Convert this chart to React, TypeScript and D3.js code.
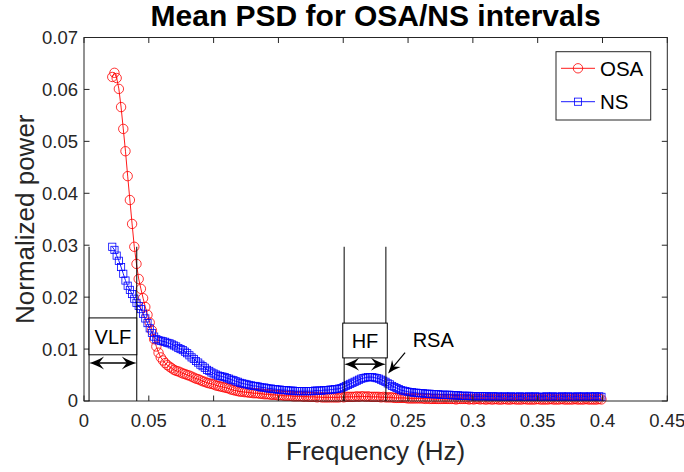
import React from 'react';
import * as d3 from 'd3';

// ---- Data ----
const FREQ_START = 0.0218;
const FREQ_STEP = 0.0017;

const OSA = [
  0.0624,0.0632,0.0622,0.0601,0.0566,0.0524,0.0481,0.0433,0.0387,0.0341,
  0.0297,0.0264,0.0235,0.0216,0.0198,0.0181,0.0166,0.0151,0.0136,0.0119,
  0.0105,0.0093,0.0084,0.0078,0.0073,0.0069,0.0066,0.0063,0.0060,0.0058,
  0.0057,0.0055,0.0053,0.0052,0.0050,0.0049,0.0047,0.0045,0.0043,0.0042,
  0.0040,0.0038,0.0037,0.0035,0.0034,0.0033,0.0032,0.0030,0.0029,0.0028,
  0.0027,0.0026,0.0025,0.0024,0.0022,0.0021,0.0020,0.0019,0.0018,0.0018,
  0.0017,0.0017,0.0016,0.0016,0.0015,0.0015,0.0015,0.0014,0.0014,0.0013,
  0.0013,0.0013,0.0012,0.0012,0.0012,0.0011,0.0011,0.0011,0.0010,0.0010,
  0.0010,0.0010,0.0009,0.0009,0.0009,0.0009,0.0009,0.0008,0.0009,0.0008,
  0.0008,0.0008,0.0008,0.0007,0.0008,0.0007,0.0007,0.0007,0.0007,0.0007,
  0.0007,0.0007,0.0007,0.0007,0.0008,0.0007,0.0008,0.0008,0.0008,0.0008,
  0.0008,0.0009,0.0008,0.0009,0.0009,0.0008,0.0009,0.0008,0.0008,0.0008,
  0.0008,0.0008,0.0007,0.0008,0.0007,0.0007,0.0007,0.0007,0.0006,0.0006,
  0.0006,0.0006,0.0006,0.0006,0.0005,0.0005,0.0005,0.0005,0.0005,0.0005,
  0.0005,0.0005,0.0004,0.0005,0.0004,0.0004,0.0004,0.0004,0.0004,0.0004,
  0.0004,0.0004,0.0004,0.0004,0.0004,0.0004,0.0003,0.0004,0.0004,0.0004,
  0.0004,0.0004,0.0003,0.0004,0.0003,0.0004,0.0004,0.0003,0.0004,0.0003,
  0.0003,0.0004,0.0003,0.0003,0.0004,0.0003,0.0003,0.0003,0.0004,0.0003,
  0.0003,0.0003,0.0004,0.0003,0.0003,0.0003,0.0003,0.0004,0.0003,0.0003,
  0.0003,0.0003,0.0003,0.0004,0.0003,0.0003,0.0003,0.0003,0.0003,0.0004,
  0.0003,0.0003,0.0003,0.0003,0.0004,0.0003,0.0003,0.0003,0.0003,0.0003,
  0.0004,0.0003,0.0003,0.0003,0.0003,0.0004,0.0003,0.0003,0.0003,0.0003,
  0.0003,0.0004,0.0003,
];

const NS = [
  0.0297,0.0291,0.0280,0.0270,0.0258,0.0245,0.0232,0.0222,0.0214,0.0206,
  0.0197,0.0189,0.0183,0.0177,0.0168,0.0159,0.0150,0.0140,0.0131,0.0124,
  0.0119,0.0117,0.0116,0.0115,0.0114,0.0112,0.0111,0.0109,0.0107,0.0105,
  0.0102,0.0100,0.0098,0.0095,0.0092,0.0088,0.0084,0.0081,0.0077,0.0074,
  0.0070,0.0067,0.0064,0.0060,0.0058,0.0055,0.0053,0.0051,0.0049,0.0048,
  0.0047,0.0046,0.0044,0.0043,0.0041,0.0040,0.0038,0.0037,0.0035,0.0034,
  0.0033,0.0032,0.0031,0.0030,0.0029,0.0029,0.0028,0.0027,0.0026,0.0026,
  0.0025,0.0024,0.0024,0.0023,0.0023,0.0022,0.0022,0.0021,0.0021,0.0021,
  0.0020,0.0020,0.0020,0.0019,0.0019,0.0019,0.0019,0.0019,0.0019,0.0019,
  0.0019,0.0019,0.0020,0.0020,0.0020,0.0020,0.0021,0.0021,0.0021,0.0022,
  0.0022,0.0023,0.0023,0.0024,0.0025,0.0027,0.0029,0.0031,0.0033,0.0035,
  0.0037,0.0039,0.0041,0.0043,0.0044,0.0045,0.0046,0.0046,0.0046,0.0045,
  0.0044,0.0043,0.0041,0.0039,0.0037,0.0034,0.0032,0.0029,0.0027,0.0025,
  0.0023,0.0021,0.0020,0.0019,0.0018,0.0017,0.0017,0.0016,0.0016,0.0015,
  0.0015,0.0015,0.0014,0.0014,0.0014,0.0013,0.0013,0.0013,0.0013,0.0012,
  0.0012,0.0012,0.0012,0.0012,0.0011,0.0011,0.0011,0.0011,0.0010,0.0010,
  0.0010,0.0010,0.0010,0.0009,0.0009,0.0009,0.0009,0.0009,0.0009,0.0009,
  0.0009,0.0008,0.0009,0.0009,0.0008,0.0009,0.0008,0.0008,0.0009,0.0008,
  0.0008,0.0009,0.0008,0.0008,0.0008,0.0009,0.0008,0.0008,0.0008,0.0009,
  0.0008,0.0008,0.0009,0.0008,0.0008,0.0008,0.0008,0.0009,0.0008,0.0008,
  0.0009,0.0008,0.0008,0.0008,0.0009,0.0008,0.0008,0.0009,0.0008,0.0008,
  0.0008,0.0009,0.0008,0.0008,0.0009,0.0008,0.0008,0.0009,0.0008,0.0009,
  0.0008,0.0009,0.0008,
];

const SERIES_NAMES = ['OSA', 'NS'];
const X_TICKS = [0, 0.05, 0.1, 0.15, 0.2, 0.25, 0.3, 0.35, 0.4, 0.45];
const X_TICK_LABELS = ['0', '0.05', '0.1', '0.15', '0.2', '0.25', '0.3', '0.35', '0.4', '0.45'];
const Y_TICKS = [0, 0.01, 0.02, 0.03, 0.04, 0.05, 0.06, 0.07];
const Y_TICK_LABELS = ['0', '0.01', '0.02', '0.03', '0.04', '0.05', '0.06', '0.07'];

const TITLE = 'Mean PSD for OSA/NS intervals';
const X_LABEL = 'Frequency (Hz)';
const Y_LABEL = 'Normalized power';

// annotation positions in data units
const VLF_BAND = [0.0039, 0.0407];
const HF_BAND = [0.2007, 0.2329];
const BAND_TOP = 0.0297;
const VLF_BOX = [0.0089, 0.0160];
const HF_BOX = [0.0083, 0.0150];
const VLF_ARROW_Y = 0.0073;
const HF_ARROW_Y = 0.0071;
const RSA_TEXT = [0.2694, 0.01175];
const RSA_ARROW_FROM = [0.2477, 0.0093];
const RSA_ARROW_TO = [0.2346, 0.0053];

// ---- Layout ----
const W = 684;
const H = 472;
const M = { left: 84, right: 16.7, top: 37.5, bottom: 71 };
const FONT = '"Liberation Sans", Arial, Helvetica, sans-serif';
const AXIS_COLOR = '#262626';

function arrowHead(tx: number, ty: number, fx: number, fy: number, L = 15, hw = 6.5, notch = 5) {
  const dx = tx - fx, dy = ty - fy;
  const len = Math.hypot(dx, dy);
  const ux = dx / len, uy = dy / len;
  const nx = -uy, ny = ux;
  const bx = tx - L * ux, by = ty - L * uy;
  const p1 = [bx + hw * nx, by + hw * ny];
  const p2 = [tx - (L - notch) * ux, ty - (L - notch) * uy];
  const p3 = [bx - hw * nx, by - hw * ny];
  const c1 = [tx - 0.45 * L * ux + 0.25 * hw * nx, ty - 0.45 * L * uy + 0.25 * hw * ny];
  const c3 = [tx - 0.45 * L * ux - 0.25 * hw * nx, ty - 0.45 * L * uy - 0.25 * hw * ny];
  return `M${tx},${ty}Q${c1[0]},${c1[1]} ${p1[0]},${p1[1]}L${p2[0]},${p2[1]}L${p3[0]},${p3[1]}Q${c3[0]},${c3[1]} ${tx},${ty}Z`;
}

export default function App() {
  const x = d3.scaleLinear().domain([0, 0.45]).range([M.left, W - M.right]);
  const y = d3.scaleLinear().domain([0, 0.07]).range([H - M.bottom, M.top]);
  const freqs = d3.range(OSA.length).map((i) => FREQ_START + i * FREQ_STEP);

  const line = d3
    .line<number>()
    .x((_, i) => x(freqs[i]))
    .y((d) => y(d));

  const x0 = M.left, x1 = W - M.right, y0 = H - M.bottom, y1 = M.top;
  const tickLen = 5.5;
  const sq = 7.2;
  const r = 4.7;

  const vlfL = x(VLF_BAND[0]), vlfR = x(VLF_BAND[1]);
  const hfL = x(HF_BAND[0]), hfR = x(HF_BAND[1]);
  const bandTop = y(BAND_TOP);

  const legendX = 556, legendY = 51.7, legendW = 94.7, legendH = 68.3;

  return (
    <svg
      width={W}
      height={H}
      style={{ position: 'absolute', left: 0, top: 0, background: '#fff' }}
      fontFamily={FONT}
    >
      <rect x={0} y={0} width={W} height={H} fill="#fff" />
      {/* title */}
      <text x={(x0 + x1) / 2} y={25.5} textAnchor="middle" fontSize={30} fontWeight="bold" fill="#000">
        {TITLE}
      </text>

      {/* series OSA */}
      <path d={line(OSA) || ''} fill="none" stroke="#ff0000" strokeWidth={0.9} />
      {OSA.map((v, i) => (
        <circle key={'o' + i} cx={x(freqs[i])} cy={y(v)} r={r} fill="none" stroke="#ff0000" strokeWidth={0.8} />
      ))}
      {/* series NS */}
      <path d={line(NS) || ''} fill="none" stroke="#0000ff" strokeWidth={0.9} />
      {NS.map((v, i) => (
        <rect
          key={'n' + i}
          x={x(freqs[i]) - sq / 2}
          y={y(v) - sq / 2}
          width={sq}
          height={sq}
          fill="none"
          stroke="#0000ff"
          strokeWidth={0.8}
        />
      ))}

      {/* axes box */}
      <rect x={x0} y={y1} width={x1 - x0} height={y0 - y1} fill="none" stroke={AXIS_COLOR} strokeWidth={1} />
      {X_TICKS.map((t, i) => (
        <g key={'xt' + i}>
          <line x1={x(t)} x2={x(t)} y1={y0} y2={y0 - tickLen} stroke={AXIS_COLOR} />
          <line x1={x(t)} x2={x(t)} y1={y1} y2={y1 + tickLen} stroke={AXIS_COLOR} />
          <text x={x(t)} y={427} textAnchor="middle" fontSize={18.5} fill={AXIS_COLOR}>
            {X_TICK_LABELS[i]}
          </text>
        </g>
      ))}
      {Y_TICKS.map((t, i) => (
        <g key={'yt' + i}>
          <line x1={x0} x2={x0 + tickLen} y1={y(t)} y2={y(t)} stroke={AXIS_COLOR} />
          <line x1={x1} x2={x1 - tickLen} y1={y(t)} y2={y(t)} stroke={AXIS_COLOR} />
          <text x={78} y={y(t)} dy="0.35em" textAnchor="end" fontSize={18.5} fill={AXIS_COLOR}>
            {Y_TICK_LABELS[i]}
          </text>
        </g>
      ))}
      <text x={(x0 + x1) / 2} y={460} textAnchor="middle" fontSize={26} fill={AXIS_COLOR}>
        {X_LABEL}
      </text>
      <text
        transform={`translate(34,${(y0 + y1) / 2}) rotate(-90)`}
        textAnchor="middle"
        fontSize={26}
        fill={AXIS_COLOR}
      >
        {Y_LABEL}
      </text>

      {/* VLF / HF / RSA annotations */}
      <g stroke="#000" strokeWidth={1} fill="none">
        <line x1={vlfL} x2={vlfL} y1={bandTop} y2={y0} />
        <line x1={vlfR} x2={vlfR} y1={bandTop} y2={y0} />
        <rect x={vlfL} y={y(VLF_BOX[1])} width={vlfR - vlfL} height={y(VLF_BOX[0]) - y(VLF_BOX[1])} fill="#fff" />
        <line x1={vlfL + 6} x2={vlfR - 6} y1={y(VLF_ARROW_Y)} y2={y(VLF_ARROW_Y)} strokeWidth={1.5} />
        <line x1={hfL} x2={hfL} y1={bandTop} y2={y0} />
        <line x1={hfR} x2={hfR} y1={bandTop} y2={y0} />
        <rect x={hfL - 1.4} y={y(HF_BOX[1])} width={hfR - hfL + 2.8} height={y(HF_BOX[0]) - y(HF_BOX[1])} fill="#fff" />
        <line x1={hfL + 6} x2={hfR - 6} y1={y(HF_ARROW_Y)} y2={y(HF_ARROW_Y)} strokeWidth={1.5} />
        <line
          x1={x(RSA_ARROW_FROM[0])}
          y1={y(RSA_ARROW_FROM[1])}
          x2={x(RSA_ARROW_TO[0]) + 3}
          y2={y(RSA_ARROW_TO[1]) - 4}
          strokeWidth={1.2}
        />
      </g>
      <g fill="#000" stroke="none">
        <path d={arrowHead(vlfL, y(VLF_ARROW_Y), vlfR, y(VLF_ARROW_Y))} />
        <path d={arrowHead(vlfR, y(VLF_ARROW_Y), vlfL, y(VLF_ARROW_Y))} />
        <path d={arrowHead(hfL, y(HF_ARROW_Y), hfR, y(HF_ARROW_Y))} />
        <path d={arrowHead(hfR, y(HF_ARROW_Y), hfL, y(HF_ARROW_Y))} />
        <path
          d={arrowHead(
            x(RSA_ARROW_TO[0]),
            y(RSA_ARROW_TO[1]),
            x(RSA_ARROW_FROM[0]),
            y(RSA_ARROW_FROM[1]),
            13,
            5.5,
            4
          )}
        />
      </g>
      <text
        x={(vlfL + vlfR) / 2}
        y={(y(VLF_BOX[0]) + y(VLF_BOX[1])) / 2}
        dy="0.36em"
        textAnchor="middle"
        fontSize={20}
        fill="#000"
      >
        VLF
      </text>
      <text
        x={(hfL + hfR) / 2}
        y={(y(HF_BOX[0]) + y(HF_BOX[1])) / 2}
        dy="0.36em"
        textAnchor="middle"
        fontSize={20}
        fill="#000"
      >
        HF
      </text>
      <text x={x(RSA_TEXT[0])} y={y(RSA_TEXT[1])} dy="0.36em" textAnchor="middle" fontSize={20} fill="#000">
        RSA
      </text>

      {/* legend */}
      <rect x={legendX} y={legendY} width={legendW} height={legendH} fill="#fff" stroke={AXIS_COLOR} strokeWidth={1} />
      {SERIES_NAMES.map((name, i) => {
        const ly = legendY + 16.6 + i * 33.4;
        const color = i === 0 ? '#ff0000' : '#0000ff';
        return (
          <g key={name}>
            <line x1={561} x2={595} y1={ly} y2={ly} stroke={color} strokeWidth={0.9} />
            {i === 0 ? (
              <circle cx={578} cy={ly} r={r} fill="none" stroke={color} strokeWidth={0.8} />
            ) : (
              <rect x={578 - sq / 2} y={ly - sq / 2} width={sq} height={sq} fill="none" stroke={color} strokeWidth={0.8} />
            )}
            <text x={600} y={ly} dy="0.36em" fontSize={20.5} fill="#000">
              {name}
            </text>
          </g>
        );
      })}
    </svg>
  );
}
